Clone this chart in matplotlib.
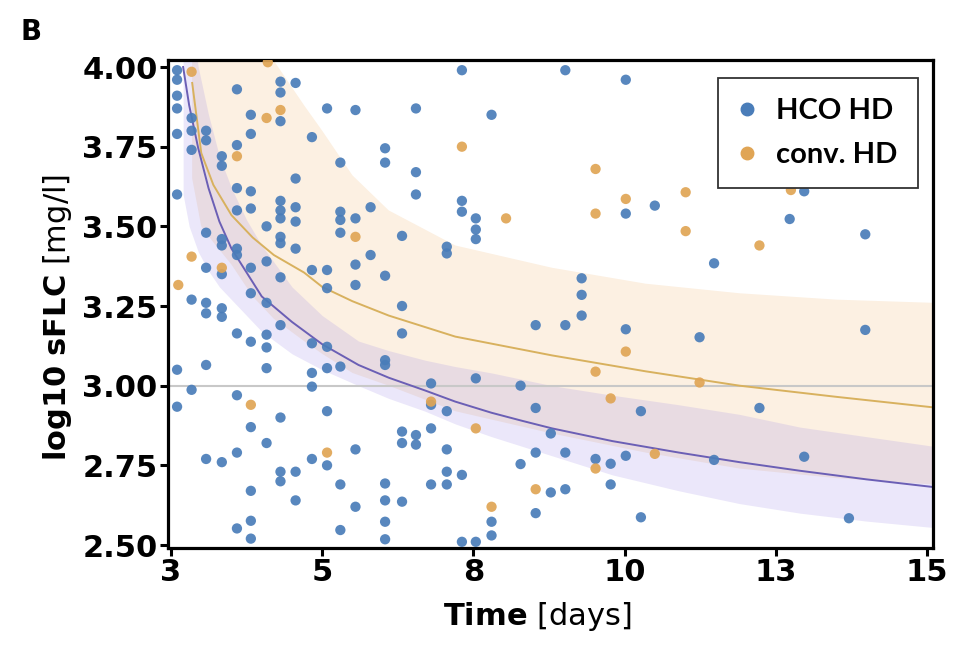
import matplotlib
matplotlib.use("Agg")
import matplotlib.pyplot as plt
from matplotlib.lines import Line2D

# scatter data: HCO HD (blue) and conv. HD (orange)
hco_day = [2.60, 2.60, 2.60, 2.60, 2.60, 2.60, 2.60, 2.60,
           2.84, 2.84, 2.84, 2.84, 2.84,
           3.08, 3.08, 3.08, 3.08, 3.08, 3.08, 3.08, 3.08,
           3.34, 3.34, 3.34, 3.34, 3.34, 3.34, 3.34, 3.34,
           3.59, 3.59, 3.59, 3.59, 3.59, 3.59, 3.59, 3.59, 3.59, 3.59,
           3.82, 3.82, 3.82, 3.82, 3.82, 3.82, 3.82, 3.82, 3.82, 3.82, 3.82,
           4.08, 4.08, 4.08, 4.08, 4.08, 4.08, 4.08,
           4.31, 4.31, 4.31, 4.31, 4.31, 4.31, 4.31, 4.31, 4.31, 4.31, 4.31, 4.31, 4.31,
           4.56, 4.56, 4.56, 4.56, 4.56, 4.56, 4.56,
           4.83, 4.83, 4.83, 4.83, 4.83, 4.83,
           5.08, 5.08, 5.08, 5.08, 5.08, 5.08, 5.08,
           5.30, 5.30, 5.30, 5.30, 5.30, 5.30, 5.30,
           5.55, 5.55, 5.55, 5.55, 5.55, 5.55,
           5.80, 5.80,
           6.04, 6.04, 6.04, 6.04, 6.04, 6.04, 6.04, 6.04, 6.04,
           6.32, 6.32, 6.32, 6.32, 6.32, 6.32,
           6.55, 6.55, 6.55, 6.55, 6.55,
           6.80, 6.80, 6.80, 6.80,
           7.06, 7.06, 7.06, 7.06, 7.06, 7.06,
           7.31, 7.31, 7.31, 7.31, 7.31,
           7.54, 7.54, 7.54, 7.54, 7.54,
           7.80, 7.80, 7.80,
           8.28, 8.28,
           8.53, 8.53, 8.53, 8.53,
           8.78, 8.78,
           9.02, 9.02, 9.02, 9.02,
           9.29, 9.29, 9.29,
           9.52,
           9.77, 9.77,
           10.02, 10.02, 10.02, 10.02,
           10.27, 10.27,
           10.50,
           11.24,
           11.48, 11.48,
           12.23,
           12.73,
           12.97, 12.97,
           13.71,
           13.98, 13.98]
hco_flc = [3.99, 3.96, 3.91, 3.87, 3.79, 3.60, 3.05, 2.934,
           3.84, 3.80, 3.74, 3.27, 2.987,
           3.80, 3.77, 3.48, 3.37, 3.26, 3.227, 3.065, 2.77,
           3.72, 3.69, 3.46, 3.44, 3.35, 3.243, 3.216, 2.76,
           3.93, 3.755, 3.62, 3.55, 3.43, 3.41, 3.164, 2.97, 2.79, 2.552,
           3.85, 3.79, 3.61, 3.556, 3.37, 3.29, 3.138, 2.87, 2.67, 2.576, 2.52,
           3.50, 3.39, 3.26, 3.16, 3.12, 3.055, 2.82,
           3.954, 3.92, 3.83, 3.58, 3.55, 3.525, 3.467, 3.447, 3.34, 3.19, 2.90, 2.73, 2.70,
           3.95, 3.65, 3.56, 3.515, 3.43, 2.73, 2.64,
           3.78, 3.363, 3.133, 3.04, 2.997, 2.77,
           3.87, 3.363, 3.306, 3.122, 3.055, 2.92, 2.75,
           3.70, 3.546, 3.52, 3.48, 3.06, 2.69, 2.547,
           3.865, 3.525, 3.38, 3.316, 2.80, 2.62,
           3.56, 3.41,
           3.745, 3.70, 3.345, 3.08, 3.065, 2.693, 2.64, 2.573, 2.518,
           3.47, 3.25, 3.164, 2.856, 2.82, 2.636,
           3.87, 3.67, 3.60, 2.845, 2.815,
           3.007, 2.94, 2.866, 2.69,
           3.436, 3.415, 2.92, 2.80, 2.73, 2.69,
           3.99, 3.58, 3.546, 2.72, 2.51,
           3.525, 3.49, 3.46, 3.023, 2.51,
           3.85, 2.573, 2.53,
           3.00, 2.754,
           3.19, 2.93, 2.79, 2.60,
           2.85, 2.665,
           3.99, 3.19, 2.79, 2.675,
           3.337, 3.285, 3.22,
           2.77,
           2.755, 2.69,
           3.96, 3.54, 3.177, 2.78,
           2.92, 2.587,
           3.565,
           3.152,
           3.384, 2.767,
           2.93,
           3.523,
           3.61, 2.777,
           2.584,
           3.475, 3.175]

conv_day = [2.62, 2.84, 2.84, 3.34, 3.59, 3.82, 4.08, 4.10, 4.31, 5.08,
            5.55, 6.80, 7.31, 7.54, 7.80, 8.04, 8.53, 9.52, 9.52, 9.52,
            9.52, 9.77, 10.02, 10.02, 10.50, 11.01, 11.01, 11.24, 12.23, 12.75]
conv_flc = [3.316, 3.985, 3.405, 3.37, 3.72, 2.94, 3.84, 4.015, 3.865, 2.79,
            3.467, 2.95, 3.75, 2.866, 2.62, 3.525, 2.675, 3.68, 3.54, 3.044,
            2.74, 2.96, 3.586, 3.107, 2.786, 3.607, 3.485, 3.01, 3.44, 3.614]

# fitted curves and confidence bands
hco_fit_x = [2.70, 2.80, 2.95, 3.12, 3.30, 3.50, 3.75, 4.00, 4.50, 5.00, 5.60, 6.10,
             6.70, 7.20, 7.80, 8.30, 8.80, 9.80, 10.90, 11.90, 12.90, 14.00, 15.10]
hco_fit_y = [4.00, 3.88, 3.745, 3.62, 3.515, 3.43, 3.355, 3.28, 3.20, 3.13, 3.065, 3.025,
             2.985, 2.95, 2.915, 2.89, 2.866, 2.826, 2.79, 2.76, 2.733, 2.706, 2.682]
hco_band_hi = [4.40, 4.20, 4.00, 3.85, 3.72, 3.62, 3.52, 3.44, 3.31, 3.22, 3.14, 3.11,
               3.08, 3.06, 3.04, 3.02, 3.00, 2.97, 2.94, 2.91, 2.87, 2.84, 2.81]
hco_band_lo = [3.60, 3.50, 3.42, 3.36, 3.31, 3.27, 3.22, 3.17, 3.10, 3.05, 3.00, 2.96,
               2.92, 2.88, 2.84, 2.81, 2.78, 2.72, 2.67, 2.63, 2.60, 2.575, 2.555]

conv_fit_x = [2.85, 3.00, 3.20, 3.50, 3.85, 4.20, 4.70, 5.00, 5.50, 6.10, 7.20, 8.80,
              10.35, 11.90, 13.50, 15.10]
conv_fit_y = [3.95, 3.73, 3.63, 3.535, 3.465, 3.41, 3.355, 3.31, 3.265, 3.22, 3.154, 3.095,
              3.045, 3.00, 2.965, 2.932]
conv_band_hi = [4.80, 4.60, 4.40, 4.25, 4.12, 4.02, 3.88, 3.80, 3.66, 3.55, 3.44, 3.37,
                3.32, 3.29, 3.27, 3.26]
conv_band_lo = [3.65, 3.50, 3.45, 3.38, 3.28, 3.21, 3.14, 3.10, 3.04, 3.00, 2.92, 2.85,
                2.79, 2.74, 2.71, 2.69]

x_ticks = [2.5, 5, 7.5, 10, 12.5, 15]
x_labels = ['3', '5', '8', '10', '13', '15']
y_ticks = [2.5, 2.75, 3.0, 3.25, 3.5, 3.75, 4.0]

blue = '#4a7db9'
orange = '#e0a555'

fig = plt.figure(figsize=(9.55, 6.52), dpi=100)
ax = fig.add_axes([168 / 955, 1 - 548 / 652, 765 / 955, 488 / 652])

ax.fill_between(conv_fit_x, conv_band_lo, conv_band_hi, color=(240/255, 180/255, 110/255),
                alpha=0.2, lw=0, zorder=1)
ax.fill_between(hco_fit_x, hco_band_lo, hco_band_hi, color=(150/255, 130/255, 230/255),
                alpha=0.19, lw=0, zorder=1)
ax.axhline(3.0, color='#c8c8c8', lw=1.5, zorder=1.5)
ax.plot(conv_fit_x, conv_fit_y, color='#d8b15e', lw=1.4, zorder=2)
ax.plot(hco_fit_x, hco_fit_y, color='#6b5fb5', lw=1.4, zorder=2)

ax.scatter(hco_day, hco_flc, s=55, color=blue, edgecolors='none', alpha=0.92, zorder=3)
ax.scatter(conv_day, conv_flc, s=55, color=orange, edgecolors='none', alpha=0.92, zorder=3)

ax.set_xlim(2.45, 15.1)
ax.set_ylim(2.4906, 4.022)
ax.set_xticks(x_ticks)
ax.set_xticklabels(x_labels)
ax.set_yticks(y_ticks)
ax.set_yticklabels(['%.2f' % v for v in y_ticks])
for sp in ax.spines.values():
    sp.set_linewidth(2.3)
    sp.set_color('black')
ax.tick_params(direction='out', length=6, width=2.2, pad=1.5, labelsize=22)
for lab in ax.get_xticklabels() + ax.get_yticklabels():
    lab.set_fontweight('bold')

# axis titles: bold name, regular unit
fig.text(0.5628, 1 - 625 / 652, r'$\bf{Time}$ [days]', ha='center', va='baseline', fontsize=22)
fig.text(57 / 955, 1 - 317 / 652, r'$\bf{log10\ sFLC}$ [mg/l]', ha='center', va='center',
         rotation=90, fontsize=22)
fig.text(20 / 955, 1 - 40 / 652, 'B', fontsize=20, fontweight='bold', va='baseline')

handles = [Line2D([], [], ls='none', marker='o', ms=9, color=blue),
           Line2D([], [], ls='none', marker='o', ms=9, color=orange)]
leg = ax.legend(handles, ['HCO HD', 'conv. HD'], loc='upper right',
                bbox_to_anchor=(0.980, 0.963), borderaxespad=0, fancybox=False,
                edgecolor='#333333', framealpha=1, handletextpad=0.7, labelspacing=0.6,
                borderpad=0.7, handlelength=0.6,
                prop={'family': 'Lato', 'weight': 'bold', 'size': 21})
leg.get_frame().set_linewidth(1.3)

plt.savefig('out.png', dpi=100)
